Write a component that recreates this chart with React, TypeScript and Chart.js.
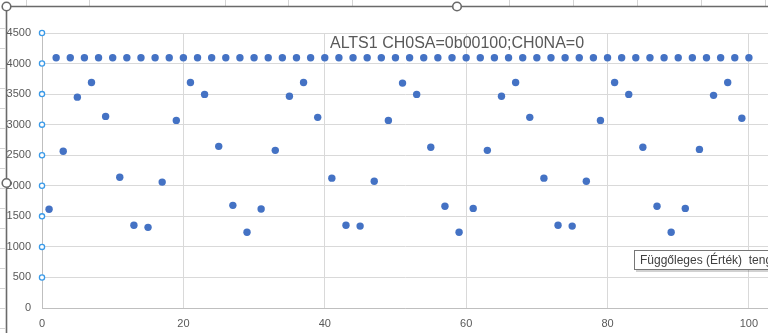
import React, { useEffect, useRef } from "react";
import { Chart, registerables } from "chart.js";

Chart.register(...registerables);

const TITLE = "ALTS1 CH0SA=0b00100;CH0NA=0";
const TOOLTIP_TEXT = "Függőleges (Érték)  teng";

const channelX = [1, 3, 5, 7, 9, 11, 13, 15, 17, 19, 21, 23, 25, 27, 29, 31, 33, 35, 37, 39, 41, 43, 45, 47, 49, 51, 53, 55, 57, 59, 61, 63, 65, 67, 69, 71, 73, 75, 77, 79, 81, 83, 85, 87, 89, 91, 93, 95, 97, 99];
const channelY = [1615, 2565, 3450, 3690, 3135, 2140, 1355, 1320, 2060, 3070, 3690, 3495, 2645, 1680, 1240, 1620, 2580, 3465, 3690, 3120, 2125, 1355, 1340, 2075, 3070, 3680, 3495, 2630, 1665, 1240, 1630, 2580, 3465, 3690, 3120, 2125, 1355, 1340, 2075, 3070, 3690, 3495, 2630, 1665, 1240, 1630, 2595, 3480, 3690, 3105];

const refX = [2, 4, 6, 8, 10, 12, 14, 16, 18, 20, 22, 24, 26, 28, 30, 32, 34, 36, 38, 40, 42, 44, 46, 48, 50, 52, 54, 56, 58, 60, 62, 64, 66, 68, 70, 72, 74, 76, 78, 80, 82, 84, 86, 88, 90, 92, 94, 96, 98, 100];
const refY = [4095, 4095, 4095, 4095, 4095, 4095, 4095, 4095, 4095, 4095, 4095, 4095, 4095, 4095, 4095, 4095, 4095, 4095, 4095, 4095, 4095, 4095, 4095, 4095, 4095, 4095, 4095, 4095, 4095, 4095, 4095, 4095, 4095, 4095, 4095, 4095, 4095, 4095, 4095, 4095, 4095, 4095, 4095, 4095, 4095, 4095, 4095, 4095, 4095, 4095];

const X_MIN = 0;
const X_MAX = 102.7;
const X_STEP = 20;
const Y_MIN = 0;
const Y_MAX = 4500;
const Y_STEP = 500;

const cellColumns = [26, 89, 225, 288, 352, 509, 573, 637, 701, 765];
const cellRows = [28, 48, 68, 88, 108, 128, 148, 168, 188, 208, 228, 248, 268, 288, 308, 328];

const BLUE = "#4472c4";
const TEXT = "#595959";
const FONT = '"Liberation Sans", Arial, sans-serif';

const decor = {
  id: "decor",
  afterDraw(chart: any) {
    const ctx = chart.ctx as CanvasRenderingContext2D;
    const W = 768;
    const H = chart.height;
    ctx.save();

    // title
    ctx.font = `16px ${FONT}`;
    ctx.fillStyle = TEXT;
    ctx.textAlign = "center";
    ctx.textBaseline = "alphabetic";
    ctx.fillText(TITLE, 457, 48);

    // axis selection handles
    const ys = chart.scales.y;
    const x0 = chart.scales.x.getPixelForValue(X_MIN);
    ys.ticks.forEach((t: any) => {
      if (t.value === 0) return;
      const py = ys.getPixelForValue(t.value);
      ctx.beginPath();
      ctx.arc(x0, py, 2.6, 0, Math.PI * 2);
      ctx.fillStyle = "#ffffff";
      ctx.fill();
      ctx.lineWidth = 1.3;
      ctx.strokeStyle = "#3a9ae8";
      ctx.stroke();
    });

    // worksheet cell lines outside the chart frame
    ctx.strokeStyle = "#d4d4d4";
    ctx.lineWidth = 1;
    cellColumns.forEach((cx) => {
      ctx.beginPath();
      ctx.moveTo(cx + 0.5, 0);
      ctx.lineTo(cx + 0.5, 6);
      ctx.stroke();
    });
    cellRows.forEach((ry) => {
      ctx.beginPath();
      ctx.moveTo(0, ry + 0.5);
      ctx.lineTo(5, ry + 0.5);
      ctx.stroke();
    });

    // chart frame
    ctx.strokeStyle = "#6a6a6a";
    ctx.lineWidth = 1.6;
    ctx.beginPath();
    ctx.moveTo(chart.width, 6.5);
    ctx.lineTo(6.5, 6.5);
    ctx.lineTo(6.5, H);
    ctx.stroke();

    const handles = [
      [6.5, 6.5],
      [457, 6.5],
      [6.5, 183],
    ];
    handles.forEach(([hx, hy]) => {
      ctx.beginPath();
      ctx.arc(hx, hy, 4.3, 0, Math.PI * 2);
      ctx.fillStyle = "#ffffff";
      ctx.fill();
      ctx.lineWidth = 1.6;
      ctx.strokeStyle = "#6a6a6a";
      ctx.stroke();
    });

    // hover tooltip
    ctx.fillStyle = "rgba(0,0,0,0.18)";
    ctx.fillRect(636, 253, 150, 19);
    ctx.fillStyle = "#ffffff";
    ctx.fillRect(634.5, 250.5, 150, 19);
    ctx.strokeStyle = "#767676";
    ctx.lineWidth = 1;
    ctx.strokeRect(634.5, 250.5, 150, 19);
    ctx.save();
    ctx.beginPath();
    ctx.rect(0, 0, W, H);
    ctx.clip();
    ctx.font = `12px ${FONT}`;
    ctx.fillStyle = "#404040";
    ctx.textAlign = "left";
    ctx.textBaseline = "middle";
    ctx.fillText(TOOLTIP_TEXT, 640, 260.5);
    ctx.restore();

    ctx.restore();
  },
};

export default function App() {
  const ref = useRef<HTMLCanvasElement | null>(null);

  useEffect(() => {
    document.body.style.margin = "0";
    const canvas = ref.current;
    if (!canvas) return;
    const chart = new Chart(canvas, {
      type: "scatter",
      data: {
        datasets: [
          {
            label: "ch",
            data: channelX.map((x, i) => ({ x, y: channelY[i] })),
            backgroundColor: BLUE,
            borderWidth: 0,
            pointRadius: 3.7,
          },
          {
            label: "ref",
            data: refX.map((x, i) => ({ x, y: refY[i] })),
            backgroundColor: BLUE,
            borderWidth: 0,
            pointRadius: 3.7,
          },
        ],
      },
      options: {
        responsive: false,
        animation: false,
        devicePixelRatio: 1,
        layout: { padding: { top: 33, right: 0, left: 0, bottom: 0 } },
        plugins: {
          legend: { display: false },
          tooltip: { enabled: false },
          title: { display: false },
        },
        events: [],
        scales: {
          x: {
            type: "linear",
            min: X_MIN,
            max: X_MAX,
            afterFit: (s: any) => {
              s.height = 25;
            },
            ticks: {
              stepSize: X_STEP,
              includeBounds: false,
              color: TEXT,
              font: { family: FONT, size: 11 },
              padding: 9,
              maxRotation: 0,
              callback: (v: any) => String(v),
            },
            grid: { color: "#d9d9d9", drawTicks: false, lineWidth: 1 },
            border: { color: "#bfbfbf", width: 1 },
          },
          y: {
            type: "linear",
            min: Y_MIN,
            max: Y_MAX,
            afterFit: (s: any) => {
              s.width = 42;
            },
            ticks: {
              stepSize: Y_STEP,
              color: TEXT,
              font: { family: FONT, size: 11 },
              padding: 11,
              callback: (v: any) => String(v),
            },
            grid: { color: "#d9d9d9", drawTicks: false, lineWidth: 1 },
            border: { color: "#bfbfbf", width: 1 },
          },
        },
      },
      plugins: [decor],
    } as any);
    return () => chart.destroy();
  }, []);

  return (
    <div style={{ position: "fixed", left: 0, top: 0, width: 768, height: 333, background: "#fff", overflow: "hidden" }}>
      <canvas ref={ref} width={772} height={333} style={{ display: "block" }} />
    </div>
  );
}
